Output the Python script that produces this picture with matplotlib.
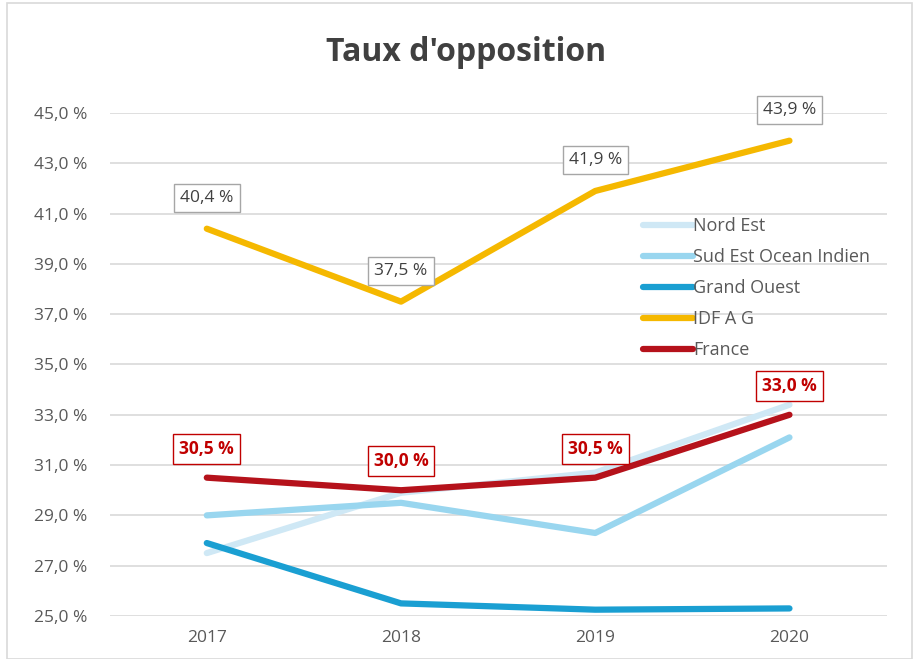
import matplotlib
matplotlib.use("Agg")
import matplotlib.pyplot as plt
from matplotlib.patches import Rectangle
from matplotlib.ticker import FuncFormatter

plt.rcParams["font.family"] = ["Open Sans", "DejaVu Sans"]

years = ["2017", "2018", "2019", "2020"]
nord_est = [27.5, 29.9, 30.7, 33.4]
sud_est = [29.0, 29.5, 28.3, 32.1]
grand_ouest = [27.9, 25.5, 25.25, 25.3]
idf = [40.4, 37.5, 41.9, 43.9]
france = [30.5, 30.0, 30.5, 33.0]

series = [
    ("Nord Est", nord_est, "#cfe8f5"),
    ("Sud Est Ocean Indien", sud_est, "#99d6ef"),
    ("Grand Ouest", grand_ouest, "#1a9fd2"),
    ("IDF A G", idf, "#f5b800"),
    ("France", france, "#b5121b"),
]


def fmt_pct(v, _pos=None):
    return f"{v:.1f} %".replace(".", ",")


fig = plt.figure(figsize=(9.14, 6.59), dpi=100)
fig.patches.append(Rectangle((0.008, 0.0), 0.99, 0.995, transform=fig.transFigure,
                             fill=False, edgecolor="#d9d9d9", linewidth=1.2))
ax = fig.add_axes([0.12, 0.0653, 0.85, 0.7632])

x = list(range(len(years)))
for name, values, color in series:
    ax.plot(x, values, color=color, linewidth=4.5, solid_capstyle="round",
            solid_joinstyle="round", label=name)

for xi, v in zip(x, idf):
    ax.annotate(fmt_pct(v), (xi, v), xytext=(0, 31), textcoords="offset pixels",
                ha="center", va="center", fontsize=12.5, color="#404040",
                bbox=dict(boxstyle="square,pad=0.35", fc="white", ec="#a6a6a6", lw=1.0))
for xi, v in zip(x, france):
    ax.annotate(fmt_pct(v), (xi, v), xytext=(0, 29), textcoords="offset pixels",
                ha="center", va="center", fontsize=12.5, color="#c00000", fontweight="bold",
                bbox=dict(boxstyle="square,pad=0.35", fc="white", ec="#c00000", lw=1.0))

ax.set_xlim(-0.5, 3.5)
ax.set_ylim(25, 45)
ax.set_yticks([25 + 2 * i for i in range(11)])
ax.yaxis.set_major_formatter(FuncFormatter(fmt_pct))
ax.set_xticks(x)
ax.set_xticklabels(years)
ax.tick_params(axis="both", length=0, labelsize=12.5, labelcolor="#595959")
ax.tick_params(axis="y", pad=16)
ax.tick_params(axis="x", pad=10)
ax.grid(axis="y", color="#d9d9d9", linewidth=1.2)
ax.set_axisbelow(True)
for spine in ax.spines.values():
    spine.set_visible(False)

ax.legend(loc="upper left", bbox_to_anchor=(0.665, 0.825), frameon=False, fontsize=13,
          handlelength=2.8, handletextpad=0.0, labelspacing=0.72, labelcolor="#595959")

fig.text(0.51, 0.92, "Taux d'opposition", ha="center", va="center", fontsize=23,
         fontweight="bold", color="#404040")

fig.savefig("out.png", dpi=100)
